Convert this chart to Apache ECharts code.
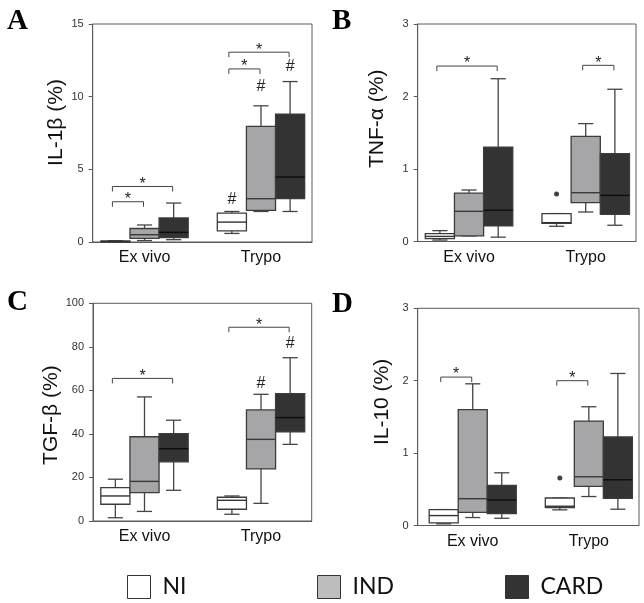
<!DOCTYPE html>
<html><head><meta charset="utf-8">
<script src="https://cdn.jsdelivr.net/npm/echarts@6/dist/echarts.min.js"></script>
<style>html,body{margin:0;padding:0;background:#fff}#c{width:644px;height:603px}</style>
</head><body><div id="c"></div>
<script>
// ---------- data ----------
const categories = ['Ex vivo', 'Trypo'];
const groups = ['NI', 'IND', 'CARD'];
// each entry: [min, Q1, median, Q3, max] for [Ex vivo, Trypo]
const A_NI   = [[0.00, 0.02, 0.04, 0.07, 0.09], [0.59, 0.76, 1.37, 1.99, 2.10]];
const A_IND  = [[0.10, 0.25, 0.50, 0.93, 1.17], [2.10, 2.17, 2.98, 7.95, 9.37]];
const A_CARD = [[0.16, 0.30, 0.66, 1.65, 2.68], [2.10, 2.98, 4.47, 8.80, 11.04]];
const B_NI   = [[0.02, 0.04, 0.07, 0.11, 0.15], [0.21, 0.25, 0.26, 0.385, 0.385]];
const B_IND  = [[0.077, 0.077, 0.416, 0.668, 0.71], [0.407, 0.535, 0.673, 1.45, 1.626]];
const B_CARD = [[0.06, 0.215, 0.43, 1.30, 2.245], [0.224, 0.375, 0.636, 1.213, 2.10]];
const C_NI   = [[1.5, 7.7, 11.5, 15.3, 19.2], [3.1, 5.4, 9.5, 10.9, 11.5]];
const C_IND  = [[4.4, 13.0, 18.2, 38.7, 57.0], [8.1, 23.9, 37.5, 51.0, 58.2]];
const C_CARD = [[14.1, 27.2, 33.2, 40.1, 46.3], [35.2, 41.0, 47.5, 58.5, 75.0]];
const D_NI   = [[0.023, 0.037, 0.137, 0.22, 0.22], [0.216, 0.247, 0.266, 0.38, 0.38]];
const D_IND  = [[0.11, 0.18, 0.37, 1.60, 1.957], [0.40, 0.54, 0.673, 1.443, 1.64]];
const D_CARD = [[0.10, 0.165, 0.353, 0.555, 0.728], [0.225, 0.376, 0.632, 1.223, 2.10]];
// outliers: [categoryIndex, groupIndex, value]
const B_outliers = [[1, 0, 0.654]];
const D_outliers = [[1, 0, 0.655]];
// significance brackets: [categoryIndex, fromGroup, toGroup, yValue]
const A_stars = [[0, 0, 1, 2.77], [0, 0, 2, 3.82], [1, 0, 1, 11.91], [1, 0, 2, 13.06]];
const B_stars = [[0, 0, 2, 2.42], [1, 1, 2, 2.43]];
const C_stars = [[0, 0, 2, 65.5], [1, 0, 2, 89.0]];
const D_stars = [[0, 0, 1, 2.05], [1, 0, 1, 2.0]];
// '#' marks: [categoryIndex, groupIndex, yValue]
const A_hash = [[1, 0, 2.9], [1, 1, 10.7], [1, 2, 12.07]];
const B_hash = [];
const C_hash = [[1, 1, 63.2], [1, 2, 81.6]];
const D_hash = [];
// y tick labels
const A_yTicks = [0, 5, 10, 15];
const B_yTicks = [0, 1, 2, 3];
const C_yTicks = [0, 20, 40, 60, 80, 100];
const D_yTicks = [0, 1, 2, 3];
const yTitles = ['IL-1β (%)', 'TNF-α (%)', 'TGF-β (%)', 'IL-10 (%)'];
const panelLetters = ['A', 'B', 'C', 'D'];

// ---------- style / layout ----------
const FONT = '"Liberation Sans", Arial, sans-serif';
const fills = ['#ffffff', '#a6a6a8', '#333333'];
const legendFills = ['#ffffff', '#bdbdbd', '#333333'];
const medianColors = ['#333333', '#3a3a3a', '#0d0d0d'];
const LINE = '#444444';
const OFFS = [-0.25, 0, 0.25];
const BOX_W = 0.25, CAP_W = 0.13;

const panels = [
  {grid: {left: 92.7, top: 24, width: 219.3, height: 218}, xr: [-0.445, 1.438], ticks: A_yTicks,
   nameGap: 26, namePad: [0, 0, 0, 21], data: [A_NI, A_IND, A_CARD], stars: A_stars, hash: A_hash, outliers: []},
  {grid: {left: 417.7, top: 24, width: 218.3, height: 217.5}, xr: [-0.44, 1.431], ticks: B_yTicks,
   nameGap: 30, namePad: [0, 0, 0, 28], data: [B_NI, B_IND, B_CARD], stars: B_stars, hash: B_hash, outliers: B_outliers},
  {grid: {left: 93, top: 303.3, width: 218.7, height: 217.7}, xr: [-0.442, 1.435], ticks: C_yTicks,
   nameGap: 30, namePad: [0, 6, 0, 0], data: [C_NI, C_IND, C_CARD], stars: C_stars, hash: C_hash, outliers: []},
  {grid: {left: 417.7, top: 308.3, width: 221.3, height: 217.2}, xr: [-0.474, 1.432], ticks: D_yTicks,
   nameGap: 25, namePad: [0, 0, 0, 30], data: [D_NI, D_IND, D_CARD], stars: D_stars, hash: D_hash, outliers: D_outliers}
];
const letterPos = [[7, 22], [332, 22], [7, 303], [332, 305]];

const grid = [], xAxis = [], yAxis = [], series = [];

panels.forEach((p, pi) => {
  grid.push(Object.assign({show: true, borderColor: '#5a5a5a', borderWidth: 1, containLabel: false}, p.grid));
  xAxis.push({
    type: 'value', gridIndex: pi, min: p.xr[0], max: p.xr[1],
    axisLine: {show: true, onZero: false, lineStyle: {color: '#5a5a5a', width: 1}},
    axisTick: {show: false}, splitLine: {show: false},
    axisLabel: {customValues: [0, 1], formatter: v => categories[Math.round(v)] || '',
      fontSize: 16, color: '#111', margin: 8, fontFamily: FONT}
  });
  const t = p.ticks;
  yAxis.push({
    type: 'value', gridIndex: pi, min: t[0], max: t[t.length - 1], interval: t[1] - t[0],
    name: yTitles[pi], nameLocation: 'middle', nameGap: p.nameGap, nameRotate: 90,
    nameTextStyle: {fontSize: 21, color: '#111', fontFamily: FONT, padding: p.namePad},
    axisLine: {show: true, onZero: false, lineStyle: {color: '#5a5a5a', width: 1}},
    axisTick: {show: true, inside: false, length: 4, lineStyle: {color: '#5a5a5a'}},
    splitLine: {show: false},
    axisLabel: {fontSize: 11, color: '#333', margin: 9, fontFamily: FONT}
  });

  // box series per group
  p.data.forEach((arr, gi) => {
    series.push({
      type: 'custom', name: groups[gi], xAxisIndex: pi, yAxisIndex: pi,
      itemStyle: {color: fills[gi], borderColor: LINE, borderWidth: 1},
      data: arr.map((d, ci) => [ci].concat(d)),
      encode: {x: 0, y: [1, 2, 3, 4, 5]},
      renderItem: (params, api) => {
        const cx = api.value(0) + OFFS[gi];
        const mn = api.value(1), q1 = api.value(2), md = api.value(3), q3 = api.value(4), mx = api.value(5);
        const c = (x, v) => api.coord([x, v]);
        const tl = c(cx - BOX_W / 2, q3), br = c(cx + BOX_W / 2, q1);
        const top = c(cx, mx), bot = c(cx, mn);
        const capL = c(cx - CAP_W / 2, 0)[0], capR = c(cx + CAP_W / 2, 0)[0];
        const ln = {stroke: LINE, lineWidth: 1.3};
        const children = [
          {type: 'line', shape: {x1: top[0], y1: top[1], x2: top[0], y2: tl[1]}, style: ln},
          {type: 'line', shape: {x1: capL, y1: top[1], x2: capR, y2: top[1]}, style: ln},
          {type: 'line', shape: {x1: bot[0], y1: br[1], x2: bot[0], y2: bot[1]}, style: ln},
          {type: 'line', shape: {x1: capL, y1: bot[1], x2: capR, y2: bot[1]}, style: ln},
          {type: 'rect', shape: {x: tl[0], y: tl[1], width: br[0] - tl[0], height: Math.max(br[1] - tl[1], 1)},
           style: {fill: fills[gi], stroke: '#3c3c3c', lineWidth: 1.3}},
        ];
        const m1 = c(cx - BOX_W / 2, md), m2 = c(cx + BOX_W / 2, md);
        children.push({type: 'line', shape: {x1: m1[0], y1: m1[1], x2: m2[0], y2: m2[1]},
          style: {stroke: medianColors[gi], lineWidth: 1.4}});
        return {type: 'group', children};
      }
    });
  });

  // outliers
  if (p.outliers.length) {
    series.push({
      type: 'scatter', xAxisIndex: pi, yAxisIndex: pi, symbol: 'circle', symbolSize: 5,
      itemStyle: {color: '#111'}, silent: true,
      data: p.outliers.map(o => [o[0] + OFFS[o[1]], o[2]])
    });
  }

  // significance brackets
  series.push({
    type: 'custom', xAxisIndex: pi, yAxisIndex: pi, silent: true,
    data: p.stars, encode: {x: 0, y: 3},
    renderItem: (params, api) => {
      const ci = api.value(0), g1 = api.value(1), g2 = api.value(2), yv = api.value(3);
      const a = api.coord([ci + OFFS[g1], yv]), b = api.coord([ci + OFFS[g2], yv]);
      return {type: 'group', children: [
        {type: 'polyline', shape: {points: [[a[0] - 3, a[1] + 5], [a[0] - 3, a[1]], [b[0] - 1, b[1]], [b[0] - 1, b[1] + 5]]},
         style: {stroke: '#444', lineWidth: 1, fill: null}},
        {type: 'text', x: (a[0] + b[0]) / 2 - 2, y: a[1] - 2,
         style: {text: '*', font: '16px ' + FONT, fill: '#222', align: 'center', verticalAlign: 'middle'}}
      ]};
    }
  });

  // '#' marks
  if (p.hash.length) {
    series.push({
      type: 'custom', xAxisIndex: pi, yAxisIndex: pi, silent: true,
      data: p.hash, encode: {x: 0, y: 2},
      renderItem: (params, api) => {
        const pt = api.coord([api.value(0) + OFFS[api.value(1)], api.value(2)]);
        return {type: 'text', x: pt[0], y: pt[1],
          style: {text: '#', font: '16px ' + FONT, fill: '#222', align: 'center', verticalAlign: 'middle'}};
      }
    });
  }
});

const legend = groups.map((g, i) => ({
  data: [{name: g, icon: 'rect', itemStyle: {color: legendFills[i], borderColor: '#333', borderWidth: 1}}],
  left: [127, 317, 505][i], top: 575, itemWidth: 23, itemHeight: 23, padding: 0,
  selectedMode: false,
  textStyle: {fontSize: 23, color: '#111', fontFamily: 'Lato, sans-serif', padding: [0, 0, 0, 7]}
}));

const graphic = panelLetters.map((L, i) => ({
  type: 'text', x: letterPos[i][0], y: letterPos[i][1],
  style: {text: L, font: 'bold 29px "Liberation Serif", "Times New Roman", serif', fill: '#000', verticalAlign: 'middle', align: 'left'}
}));

const chart = echarts.init(document.getElementById('c'), null, {renderer: 'canvas'});
chart.setOption({
  animation: false,
  backgroundColor: '#fff',
  textStyle: {fontFamily: FONT},
  grid, xAxis, yAxis, series, legend, graphic
});
</script></body></html>
